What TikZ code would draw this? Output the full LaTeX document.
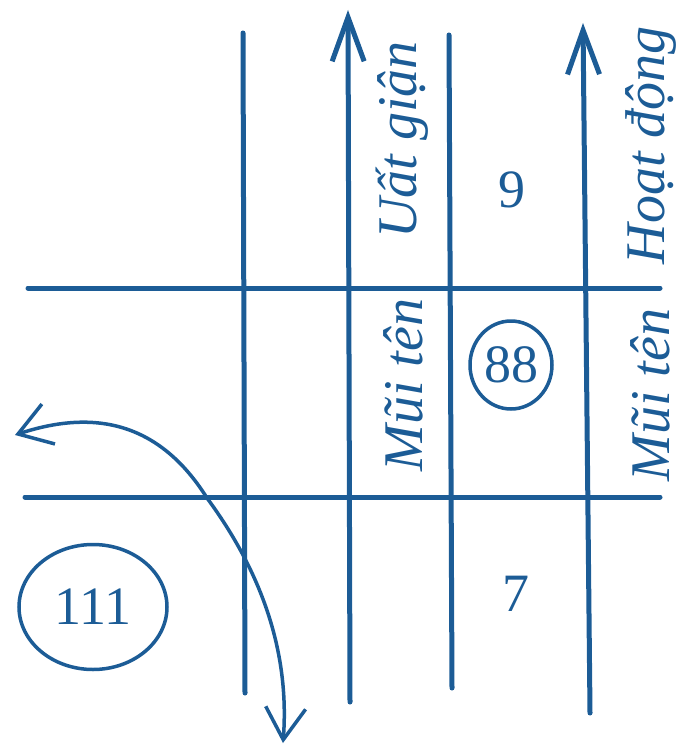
\documentclass[tikz,border=0pt]{standalone}
\usepackage{fontspec}
\setmainfont{Liberation Serif}
\usetikzlibrary{arrows.meta,shapes.geometric}
\definecolor{ink}{RGB}{28,92,150}
\begin{document}
\begin{tikzpicture}[x=1pt,y=-1pt,line cap=round,
  gridline/.style={draw=ink,line width=5pt},
  uparrow/.style={-{Straight Barb[length=44pt,width=32pt]}},
  curvearrow/.style={draw=ink,line width=3.5pt,{Straight Barb[length=32pt,width=42pt]}-{Straight Barb[length=32pt,width=40pt]}},
  lbl/.style={text=ink,font=\fontsize{56}{56}\selectfont\itshape,rotate=90,anchor=base,inner sep=0pt},
  num/.style={text=ink,font=\fontsize{54}{54}\selectfont,inner sep=0pt},
  ring/.style={draw=ink,line width=3.5pt,ellipse}]
\useasboundingbox (0,0) rectangle (686,749);
% grid end points
\coordinate (h1l) at (28,288);  \coordinate (h1r) at (660,288);
\coordinate (h2l) at (25,497);  \coordinate (h2r) at (660,497);
\coordinate (v1t) at (243,33);  \coordinate (v1b) at (245,693);
\coordinate (v2b) at (350,702); \coordinate (v2t) at (348,10);
\coordinate (v3t) at (449,35);  \coordinate (v3b) at (452,688);
\coordinate (v4b) at (590,713); \coordinate (v4t) at (583,23);
\coordinate (cl) at (15,435);   \coordinate (cm) at (207,498); \coordinate (cb) at (283,743);
% grid lines
\draw[gridline] (h1l) -- (h1r);
\draw[gridline] (h2l) -- (h2r);
\draw[gridline] (v1t) -- (v1b);
\draw[gridline,uparrow] (v2b) -- (v2t);
\draw[gridline] (v3t) -- (v3b);
\draw[gridline,uparrow] (v4b) -- (v4t);
% curved double arrow
\draw[curvearrow] (cl) .. controls (85,412) and (155,415) .. (cm)
                       .. controls (260,570) and (290,650) .. (cb);
% labels
\node[lbl] (m1) at (422,385) {Mũi tên};
\node[lbl] (u1) at (416,140) {Uất giận};
\node[lbl] (m2) at (669,395) {Mũi tên};
\node[lbl] (h2) at (664,145) {Hoạt động};
% numbers
\node[num] (n9) at (512,190) {9};
\node[num,ring,minimum width=82pt,minimum height=88pt] (n88) at (511,365) {88};
\node[num] (n7) at (516,594) {7};
\node[num,ring,minimum width=148pt,minimum height=125pt] (n111) at (93,607) {111};
\end{tikzpicture}
\end{document}
